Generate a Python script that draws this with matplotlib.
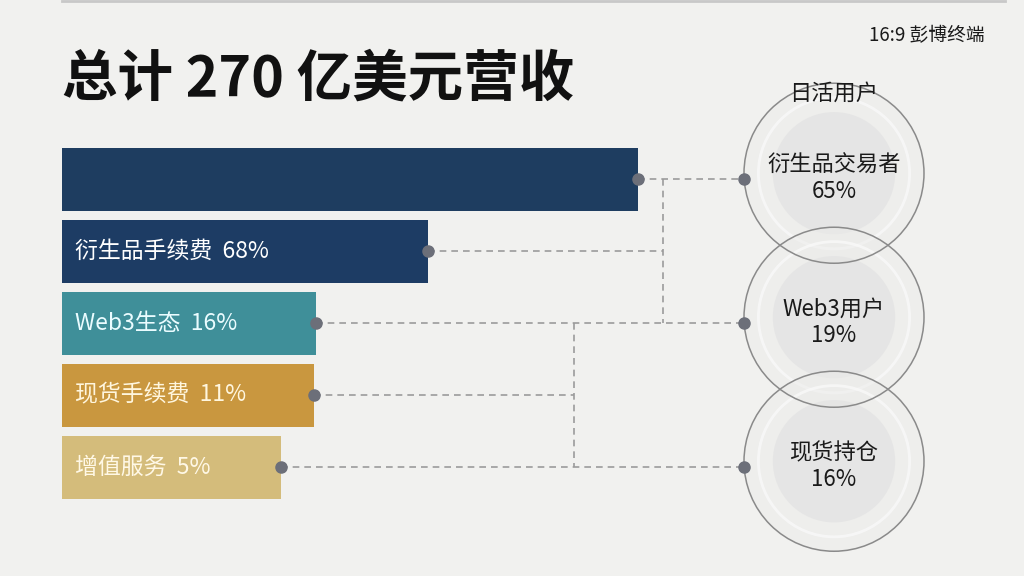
import matplotlib
matplotlib.use("Agg")
import matplotlib.pyplot as plt
from matplotlib.patches import Ellipse

plt.rcParams['font.family'] = ['Noto Sans CJK SC', 'DejaVu Sans']

# ---- data ----
title = "总计 270 亿美元营收"
source = "16:9 彭博终端"
categories = ["", "衍生品手续费", "Web3生态", "现货手续费", "增值服务"]
shares = [None, 68, 16, 11, 5]
bar_lengths = [100, 63.5, 44.1, 43.7, 38.0]   # drawn bar lengths
bar_colors = ["#1e3d60", "#1d3c64", "#3f8f99", "#c9973f", "#d4bc7b"]
text_colors = ["white", "white", "#eafcff", "#fff6de", "#fff8e6"]

users_title = "日活用户"
user_labels = ["衍生品交易者", "Web3用户", "现货持仓"]
user_shares = [65, 19, 16]
user_rows = [0, 2, 4]          # bar row each circle lines up with

# ---- figure / axes (px mapping: x=0 -> 62px, 5.76 px per unit; row pitch 72px) ----
W, H = 1024, 576
fig = plt.figure(figsize=(W / 100, H / 100), dpi=100, facecolor="#f1f1ef")
ax = fig.add_axes([0, 0, 1, 1])
ax.set_facecolor("#f1f1ef")
sx = 5.76
ax.set_xlim(-62 / sx, (W - 62) / sx)
ax.set_ylim((H - 179) / 72, -179 / 72)
ax.axis("off")

rows = list(range(len(categories)))
ax.barh(rows, bar_lengths, height=0.875, color=bar_colors, left=0, zorder=2)

for r, cat, sh, tc in zip(rows, categories, shares, text_colors):
    if sh is not None:
        ax.text(2.3, r, f"{cat}  {sh}%", color=tc, fontsize=16.5, fontweight="medium",
                va="center", ha="left", zorder=3)

dash = dict(color="#9b9b9b", lw=1.2, ls=(0, (4, 3)), zorder=1)
dot = dict(marker="o", ms=8, color="#6c6f79", zorder=6, ls="none")

# circles
cx = (834 - 62) / sx
rad_px = 90
cw = 2 * rad_px / sx
ch = 2 * rad_px / 72
circle_left = cx - rad_px / sx
for lab, sh, r in zip(user_labels, user_shares, user_rows):
    cy = r - 0.08
    ax.add_patch(Ellipse((cx, cy), cw, ch, facecolor="#ececea", edgecolor="none",
                         alpha=0.55, zorder=2))
    ax.add_patch(Ellipse((cx, cy), cw * 0.84, ch * 0.84, facecolor="none",
                         edgecolor="#f9f9f9", lw=2.0, alpha=0.8, zorder=2))
    ax.add_patch(Ellipse((cx, cy), cw * 0.68, ch * 0.68, facecolor="#e4e4e4",
                         edgecolor="none", zorder=2, alpha=0.85))
    ax.add_patch(Ellipse((cx, cy), cw, ch, facecolor="none", edgecolor="#8a8a8a",
                         lw=1.1, zorder=4))
    ax.text(cx, cy + 0.07, f"{lab}\n{sh}%", ha="center", va="center", fontsize=16,
            fontweight="medium", color="#1a1a1a", linespacing=1.2, zorder=5)

# connectors
v1 = (663 - 62) / sx
v2 = (574 - 62) / sx
ax.plot([bar_lengths[0], circle_left], [0, 0], **dash)
ax.plot([bar_lengths[1], v1], [1, 1], **dash)
ax.plot([v1, v1], [0, 2], **dash)
ax.plot([bar_lengths[2], circle_left], [2, 2], **dash)
ax.plot([v2, v2], [2, 4], **dash)
ax.plot([bar_lengths[3], v2], [3, 3], **dash)
ax.plot([bar_lengths[4], circle_left], [4, 4], **dash)
ax.plot([bar_lengths[i] for i in rows], rows, **dot)
ax.plot([circle_left] * 3, user_rows, **dot)

# texts
ax.text(cx, (93 - 179) / 72, users_title, ha="center", va="center", fontsize=16,
        fontweight="medium", color="#1a1a1a", zorder=6)
fig.text(62 / W, 1 - 80 / H, title, ha="left", va="center", fontsize=40,
         fontweight="bold", color="#111111")
fig.text(985 / W, 1 - 36 / H, source, ha="right", va="center", fontsize=13.5,
         fontweight="medium", color="#1a1a1a")
fig.add_artist(plt.Line2D([62 / W, 1005 / W], [1 - 1 / H, 1 - 1 / H],
                          color="#c8c8c8", lw=2))

fig.savefig("out.png", dpi=100, facecolor=fig.get_facecolor())
